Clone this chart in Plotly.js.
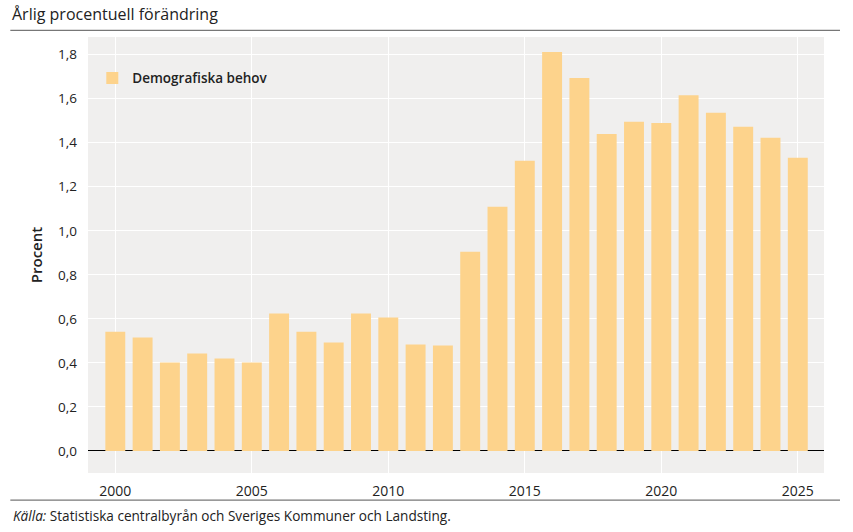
<!DOCTYPE html>
<html>
<head>
<meta charset="utf-8">
<script src="https://cdn.plot.ly/plotly-3.0.1.min.js"></script>
<style>html,body{margin:0;padding:0;background:#fff;}#chart{width:853px;height:532px;}</style>
</head>
<body>
<div id="chart"></div>
<script>
const years = [2000,2001,2002,2003,2004,2005,2006,2007,2008,2009,2010,2011,2012,2013,2014,2015,2016,2017,2018,2019,2020,2021,2022,2023,2024,2025];
const demografiskaBehov = [0.542,0.515,0.402,0.443,0.420,0.402,0.624,0.542,0.493,0.624,0.606,0.484,0.479,0.905,1.109,1.318,1.812,1.694,1.439,1.495,1.490,1.616,1.536,1.472,1.422,1.332];
const seriesName = 'Demografiska behov';
const xTickVals = [2000,2005,2010,2015,2020,2025];
const yTickVals = [0,0.2,0.4,0.6,0.8,1.0,1.2,1.4,1.6,1.8];
const titleText = 'Årlig procentuell förändring';
const yTitle = 'Procent';
const sourceText = '<i>Källa:</i> Statistiska centralbyrån och Sveriges Kommuner och Landsting.';

const FONT = 'Open Sans, sans-serif';
const ML = 87.7, MR = 29, MT = 36.7, MB = 58.7, W = 853, H = 532;
const PW = W - ML - MR, PH = H - MT - MB;
const px = x => (x - ML) / PW;
const py = y => (H - MB - y) / PH;

const trace = {
  type: 'bar',
  x: years,
  y: demografiskaBehov,
  name: seriesName,
  marker: {color: '#FDD38C', line: {width: 0}},
  hoverinfo: 'x+y'
};

const layout = {
  width: W, height: H,
  margin: {l: ML, r: MR, t: MT, b: MB, pad: 0},
  paper_bgcolor: '#ffffff',
  plot_bgcolor: '#F0EFEE',
  separators: ', ',
  bargap: 0.27,
  font: {family: FONT, color: '#222222', size: 13},
  showlegend: true,
  legend: {
    x: px(92), y: py(78), xanchor: 'left', yanchor: 'middle',
    bgcolor: 'rgba(0,0,0,0)', borderwidth: 0,
    font: {family: FONT, size: 13.5, color: '#222', weight: 600}
  },
  title: {
    text: titleText, x: 12 / W, xanchor: 'left', xref: 'container',
    y: 1 - 14 / H, yanchor: 'middle', yref: 'container',
    font: {family: FONT, size: 16, color: '#222'}
  },
  xaxis: {
    range: [1999.0, 2025.96],
    tickvals: xTickVals,
    ticks: '',
    showgrid: true, gridcolor: '#ffffff', gridwidth: 1,
    zeroline: false, showline: false,
    ticklabelstandoff: 8,
    tickfont: {family: FONT, size: 14, color: '#222'}
  },
  yaxis: {
    range: [-0.1, 1.88],
    tickvals: yTickVals,
    tickformat: '.1f',
    ticks: '',
    showgrid: true, gridcolor: '#ffffff', gridwidth: 1,
    zeroline: true, zerolinecolor: '#000000', zerolinewidth: 1,
    showline: false,
    ticklabelstandoff: 10,
    tickfont: {family: FONT, size: 13.5, color: '#222'},
    title: {text: yTitle, standoff: 11, font: {family: FONT, size: 15, color: '#222', weight: 600}}
  },
  shapes: [
    {type: 'line', xref: 'paper', yref: 'paper', x0: px(10), x1: px(840), y0: py(30), y1: py(30), line: {color: '#777', width: 1.2}},
    {type: 'line', xref: 'paper', yref: 'paper', x0: px(10), x1: px(840), y0: py(500.5), y1: py(500.5), line: {color: '#777', width: 1.2}}
  ],
  annotations: [
    {text: sourceText, xref: 'paper', yref: 'paper', x: px(11), y: py(516), xanchor: 'left', yanchor: 'middle', showarrow: false, font: {family: FONT, size: 13.6, color: '#222'}}
  ]
};

Plotly.newPlot('chart', [trace], layout, {displayModeBar: false, staticPlot: true});
</script>
</body>
</html>
